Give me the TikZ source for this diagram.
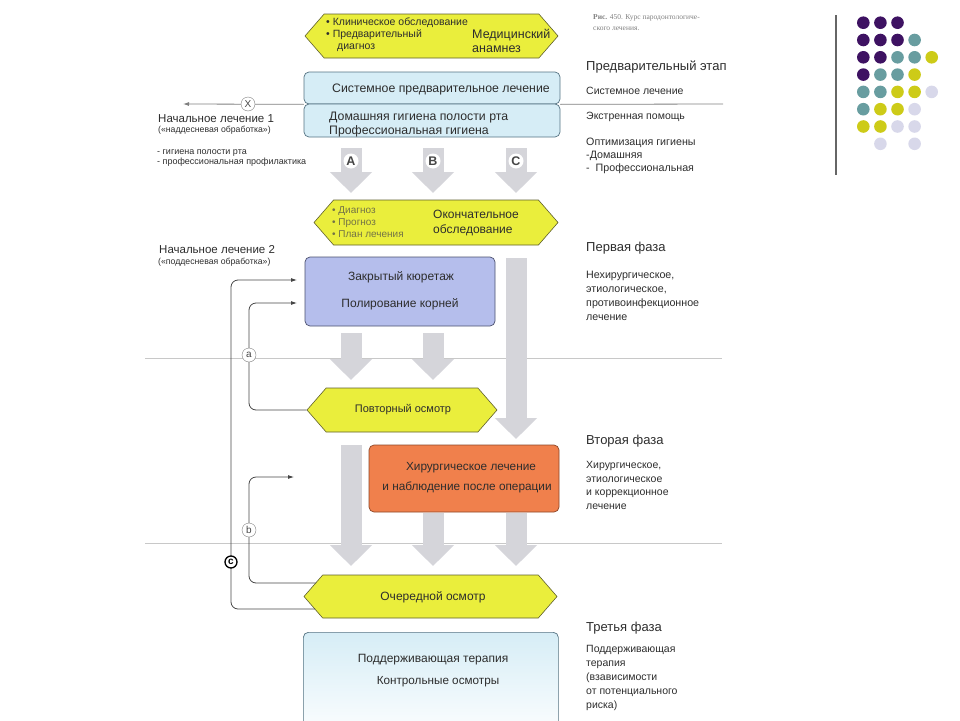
\documentclass[tikz,border=0pt]{standalone}
\usepackage{fontspec}
\setmainfont{Liberation Sans}
\newfontfamily\capfont{Liberation Serif}
\usetikzlibrary{shapes.symbols,arrows.meta,calc}
\definecolor{hexfill}{RGB}{234,238,60}
\definecolor{hexdraw}{RGB}{95,95,45}
\definecolor{lblue}{RGB}{214,237,246}
\definecolor{lbluedraw}{RGB}{85,115,130}
\definecolor{lav}{RGB}{181,190,236}
\definecolor{lavdraw}{RGB}{75,80,110}
\definecolor{orng}{RGB}{240,128,76}
\definecolor{orngdraw}{RGB}{140,70,40}
\definecolor{agray}{RGB}{213,213,218}
\definecolor{txt}{RGB}{45,45,45}
\definecolor{faded}{RGB}{115,115,70}
\definecolor{lgray}{RGB}{200,200,200}
\definecolor{cgray}{RGB}{70,70,70}
\definecolor{dpurple}{RGB}{62,18,98}
\definecolor{dteal}{RGB}{104,157,160}
\definecolor{dyellow}{RGB}{205,203,24}
\definecolor{dlav}{RGB}{216,216,234}
\newcommand\fsz[2]{\fontsize{#1}{#2}\selectfont}
\begin{document}
\begin{tikzpicture}[x=1pt,y=-1pt,
  hexa/.style={shape=signal, signal to=east and west, signal pointer angle=98,
    draw=hexdraw, fill=hexfill, line width=0.6pt, inner sep=0pt},
  bx/.style={rectangle, rounded corners=5pt, line width=0.7pt, inner sep=0pt},
  bigarr/.style={draw=agray, line width=21pt, -{Triangle[length=21pt,width=41pt]}},
  conn/.style={draw=cgray, line width=0.8pt, rounded corners=7pt, -{Latex[length=6pt,width=4pt]}},
  sep/.style={draw=lgray, line width=0.8pt},
  lett/.style={circle, fill=white, inner sep=0pt, minimum size=15pt, text=cgray, font=\fsz{12.5}{12}\bfseries},
  lbl/.style={circle, draw=gray, fill=white, inner sep=0pt, minimum size=14pt, text=cgray, font=\fsz{10}{10}},
  tx/.style={text=txt, inner sep=0pt},
  btx/.style={tx, font=\fsz{12.3}{14}},
  rhead/.style={tx, anchor=west, font=\fsz{13}{15}},
  rbody/.style={tx, anchor=west, align=left, font=\fsz{10.5}{13.5}},
]
\useasboundingbox (0,0) rectangle (960,720);
\clip (0,0) rectangle (960,720);

% separators
\coordinate (s1a) at (145,358); \coordinate (s1b) at (722,358);
\coordinate (s2a) at (145,543); \coordinate (s2b) at (722,543);
\draw[sep] (s1a) -- (s1b);
\draw[sep] (s2a) -- (s2b);

% boxes
\node[hexa, minimum width=253pt, minimum height=44pt] (hex1) at (431.5,36) {};
\node[bx, draw=lbluedraw, fill=lblue, minimum width=256pt, minimum height=32pt] (blue1) at (432,88) {};
\node[bx, draw=lbluedraw, fill=lblue, minimum width=256pt, minimum height=33pt] (blue2) at (432,120.5) {};
\node[hexa, minimum width=244pt, minimum height=45pt] (hex2) at (436,222.5) {};
\node[bx, draw=lavdraw, fill=lav, minimum width=190pt, minimum height=69pt] (lavbox) at (400,291.5) {};
\node[hexa, minimum width=190pt, minimum height=44pt] (hex3) at (402,410) {};
\node[bx, draw=orngdraw, fill=orng, minimum width=190pt, minimum height=67pt] (orbox) at (464,478.5) {};
\node[hexa, minimum width=253pt, minimum height=43pt] (hex4) at (430.5,596.5) {};
\node[bx, draw=lbluedraw, top color=lblue, bottom color=white, minimum width=255pt, minimum height=110pt, anchor=north west] (botbox) at (303,632) {};

% big gray arrows
\coordinate (a1s) at (351,148); \coordinate (a1e) at (351,193);
\coordinate (b1s) at (433,148); \coordinate (b1e) at (433,193);
\coordinate (c1s) at (516,148); \coordinate (c1e) at (516,193);
\draw[bigarr] (a1s) -- (a1e);
\draw[bigarr] (b1s) -- (b1e);
\draw[bigarr] (c1s) -- (c1e);
\node[lett] (LA) at (351,161) {A};
\node[lett] (LB) at (433,161) {B};
\node[lett] (LC) at (516,161) {C};
\coordinate (a2s) at (351,333); \coordinate (a2e) at (351,380);
\coordinate (b2s) at (433,333); \coordinate (b2e) at (433,380);
\draw[bigarr] (a2s) -- (a2e);
\draw[bigarr] (b2s) -- (b2e);
\coordinate (c2s) at (516,258); \coordinate (c2e) at (516,439);
\draw[bigarr] (c2s) -- (c2e);
\coordinate (a3s) at (351,445); \coordinate (a3e) at (351,566);
\coordinate (b3s) at (433,513); \coordinate (b3e) at (433,566);
\coordinate (c3s) at (516,513); \coordinate (c3e) at (516,566);
\draw[bigarr] (a3s) -- (a3e);
\draw[bigarr] (b3s) -- (b3e);
\draw[bigarr] (c3s) -- (c3e);

% top horizontal line with X
\coordinate (lt) at (183,104);
\coordinate (rt) at (723,104);
\draw[draw=gray, line width=0.8pt, -{Latex[length=6pt,width=4pt]}] (blue1.south west) -- (lt);
\draw[draw=gray, line width=0.8pt] (blue1.south east) -- (rt);
\node[lbl] (xmark) at (248,104) {X};

% connectors on the left
\coordinate (xa) at (249,0);
\coordinate (xc) at (231,0);
\coordinate (aT) at (297,303);
\coordinate (cT) at (297,280);
\coordinate (bT) at (294,477);
\coordinate (b0) at (316,583);
\coordinate (c0) at (315,609);
\draw[conn] (hex3.west) -| (aT -| xa) -- (aT);
\draw[conn] (b0) -| (bT -| xa) -- (bT);
\draw[conn] (c0) -| (cT -| xc) -- (cT);
\node[lbl] (la) at (249,355) {a};
\node[lbl] (lb) at (249,530) {b};
\node[circle, draw=black, line width=1.3pt, fill=white, inner sep=0pt, minimum size=12pt, font=\fsz{10}{10}\bfseries] (lc) at (231,562) {c};

% texts inside hex1
\node[tx, anchor=west, font=\fsz{10.5}{11}] (h1a) at (326,23) {• Клиническое обследование};
\node[tx, anchor=west, font=\fsz{10.5}{11}] (h1b) at (326,35) {• Предварительный};
\node[tx, anchor=west, font=\fsz{10.5}{11}] (h1c) at (337,48) {диагноз};
\node[tx, anchor=west, font=\fsz{12.5}{14}] (h1d) at (472,35) {Медицинский};
\node[tx, anchor=west, font=\fsz{12.5}{14}] (h1e) at (472,49) {анамнез};

% blue boxes texts
\node[btx, anchor=west] (bt1) at (332,89) {Системное предварительное лечение};
\node[btx, anchor=west] (bt2) at (329,118) {Домашняя гигиена полости рта};
\node[btx, anchor=west] (bt3) at (329,131) {Профессиональная гигиена};

% hex2 texts
\node[tx, anchor=west, text=faded, font=\fsz{10}{10}] (h2a) at (332,211) {• Диагноз};
\node[tx, anchor=west, text=faded, font=\fsz{10}{10}] (h2b) at (332,223) {• Прогноз};
\node[tx, anchor=west, text=faded, font=\fsz{10}{10}] (h2c) at (332,234) {• План лечения};
\node[btx, anchor=west, font=\fsz{12}{14}] (h2d) at (433,214) {Окончательное};
\node[btx, anchor=west, font=\fsz{12}{14}] (h2e) at (433,230) {обследование};

% lavender box
\node[btx, font=\fsz{12}{14}] (lv1) at (401,277) {Закрытый кюретаж};
\node[btx, font=\fsz{12}{14}] (lv2) at (400,304) {Полирование корней};
% hex3
\node[btx, font=\fsz{11}{12}] (h3t) at (403,410) {Повторный осмотр};
% orange box
\node[btx, font=\fsz{11.8}{14}] (or1) at (471,468) {Хирургическое лечение};
\node[btx, font=\fsz{11.8}{14}] (or2) at (467,487) {и наблюдение после операции};
% hex4
\node[btx, font=\fsz{12}{12}] (h4t) at (433,597) {Очередной осмотр};
% bottom box
\node[btx, font=\fsz{12}{12}] (bb1) at (433,660) {Поддерживающая терапия};
\node[btx, font=\fsz{11.7}{12}] (bb2) at (438,682) {Контрольные осмотры};

% left texts
\node[tx, anchor=west, font=\fsz{11.5}{13}] (l1) at (158,119) {Начальное лечение 1};
\node[tx, anchor=west, font=\fsz{8.7}{9}] (l2) at (158,130) {(«наддесневая обработка»)};
\node[tx, anchor=west, align=left, font=\fsz{9}{10.5}] (l3) at (157,158) {- гигиена полости рта\\- профессиональная профилактика};
\node[tx, anchor=west, font=\fsz{11.5}{13}] (l4) at (159,250) {Начальное лечение 2};
\node[tx, anchor=west, font=\fsz{8.7}{9}] (l5) at (158,262) {(«поддесневая обработка»)};

% right column
\node[tx, anchor=west, align=left, text=gray, font=\capfont\fsz{7.5}{11}] (cap) at (593,22.5) {\textbf{Рис.} 450. Курс пародонтологиче-\\ского лечения.};
\node[rhead] (r1) at (586,67) {Предварительный этап};
\node[rbody] (r2) at (586,91) {Системное лечение};
\node[rbody] (r3) at (586,117) {Экстренная помощь};
\node[rbody, font=\fsz{10.7}{13}] (r4) at (586,156) {Оптимизация гигиены\\-Домашняя\\-\ \ Профессиональная};
\node[rhead] (r5) at (586,248) {Первая фаза};
\node[rbody, font=\fsz{10.7}{14}] (r6) at (586,296) {Нехирургическое,\\этиологическое,\\противоинфекционное\\лечение};
\node[rhead] (r7) at (586,441) {Вторая фаза};
\node[rbody] (r8) at (586,485.5) {Хирургическое,\\этиологическое\\и коррекционное\\лечение};
\node[rhead] (r9) at (586,628) {Третья фаза};
\node[rbody, font=\fsz{10.5}{13.8}] (r10) at (586,678) {Поддерживающая\\терапия\\(взависимости\\от потенциального\\риска)};

% decoration right
\coordinate (vl1) at (835.7,15); \coordinate (vl2) at (835.7,175);
\draw[draw=gray!80!black, line width=2pt] (vl1) -- (vl2);
\foreach \c/\r/\col in {1/1/dpurple,2/1/dpurple,3/1/dpurple,
  1/2/dpurple,2/2/dpurple,3/2/dpurple,4/2/dteal,
  1/3/dpurple,2/3/dpurple,3/3/dteal,4/3/dteal,5/3/dyellow,
  1/4/dpurple,2/4/dteal,3/4/dteal,4/4/dyellow,
  1/5/dteal,2/5/dteal,3/5/dyellow,4/5/dyellow,5/5/dlav,
  1/6/dteal,2/6/dyellow,3/6/dyellow,4/6/dlav,
  1/7/dyellow,2/7/dyellow,3/7/dlav,4/7/dlav,
  2/8/dlav,4/8/dlav}
  \fill[\col] ({846.2+17.1*\c},{5.4+17.3*\r}) circle (6.3);
\end{tikzpicture}
\end{document}
